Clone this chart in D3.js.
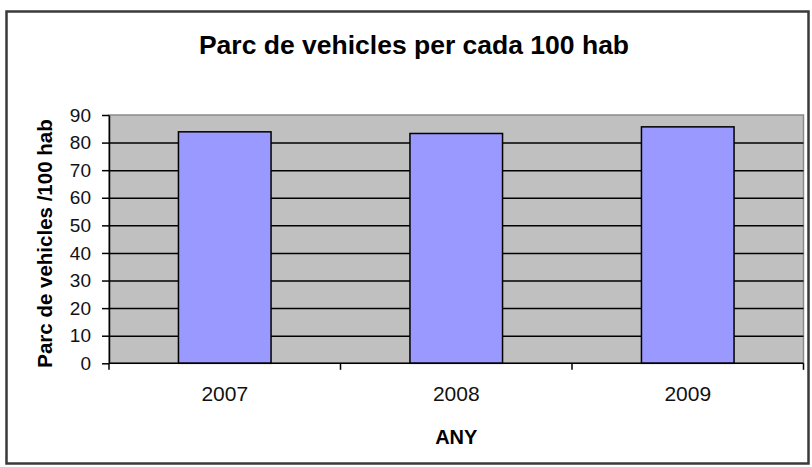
<!DOCTYPE html>
<html>
<head>
<meta charset="utf-8">
<script src="https://cdn.jsdelivr.net/npm/d3@7"></script>
<style>
  html, body { margin: 0; padding: 0; background: #fff; }
  svg { display: block; }
  text { font-family: "Liberation Sans", Arial, sans-serif; }
</style>
</head>
<body>
<svg id="chart" width="812" height="467"></svg>
<script>
const categories = ["2007", "2008", "2009"];
const values = [83.9, 83.3, 85.7];
const yTicks = [0, 10, 20, 30, 40, 50, 60, 70, 80, 90];
const chartTitle = "Parc de vehicles per cada 100 hab";
const yTitle = "Parc de vehicles /100 hab";
const xTitle = "ANY";

const svg = d3.select("#chart");
const plot = { left: 109, right: 803.5, top: 115, bottom: 363.3 };

// outer frame
svg.append("rect")
  .attr("x", 6.5).attr("y", 11.5)
  .attr("width", 802).attr("height", 452)
  .attr("fill", "#fff").attr("stroke", "#3a3a3a").attr("stroke-width", 2.5);

const x = d3.scaleBand().domain(categories)
  .range([plot.left, plot.right]).paddingInner(0.6).paddingOuter(0.3);
const y = d3.scaleLinear().domain([0, 90]).range([plot.bottom, plot.top]);

// plot background
svg.append("rect")
  .attr("x", plot.left).attr("y", plot.top)
  .attr("width", plot.right - plot.left).attr("height", plot.bottom - plot.top)
  .attr("fill", "#c0c0c0").attr("stroke", "#8a8a8a").attr("stroke-width", 1.5);

// gridlines
const grid = svg.append("g").attr("transform", `translate(${plot.left},0)`)
  .call(d3.axisLeft(y).tickValues(yTicks.filter(v => v > 0 && v < 90))
    .tickSize(-(plot.right - plot.left)).tickFormat(""));
grid.select(".domain").remove();
grid.selectAll("line").attr("stroke", "#000").attr("stroke-width", 1.5);

// bars
svg.append("g").selectAll("rect").data(values).join("rect")
  .attr("x", (d, i) => x(categories[i]))
  .attr("y", d => y(d))
  .attr("width", x.bandwidth())
  .attr("height", d => y(0) - y(d))
  .attr("fill", "#9999ff").attr("stroke", "#000").attr("stroke-width", 1.5);

// y axis
const yAxis = svg.append("g").attr("transform", `translate(${plot.left},0)`)
  .call(d3.axisLeft(y).tickValues(yTicks).tickSize(7).tickPadding(11).tickSizeOuter(0));
yAxis.select(".domain").attr("stroke", "#000").attr("stroke-width", 1.5);
yAxis.selectAll(".tick line").attr("stroke", "#000").attr("stroke-width", 1.5);
yAxis.selectAll("text").attr("font-size", 19).attr("fill", "#111");

// x axis
const xAxis = svg.append("g").attr("transform", `translate(0,${plot.bottom})`)
  .call(d3.axisBottom(x).tickSize(0).tickPadding(23));
xAxis.select(".domain").remove();
xAxis.selectAll("text").attr("font-size", 21).attr("fill", "#111");
svg.append("line")
  .attr("x1", plot.left).attr("x2", plot.right)
  .attr("y1", plot.bottom).attr("y2", plot.bottom)
  .attr("stroke", "#000").attr("stroke-width", 1.5);
const gap = (x.step() - x.bandwidth()) / 2;
const bounds = categories.map(c => x(c) - gap).concat([x(categories[categories.length - 1]) + x.bandwidth() + gap]);
svg.append("g").selectAll("line").data(bounds).join("line")
  .attr("x1", d => d).attr("x2", d => d)
  .attr("y1", plot.bottom).attr("y2", plot.bottom + 6.5)
  .attr("stroke", "#000").attr("stroke-width", 1.5);

// titles
svg.append("text").attr("x", 414).attr("y", 54)
  .attr("text-anchor", "middle").attr("font-size", 26.5).attr("font-weight", "bold")
  .text(chartTitle);
svg.append("text").attr("transform", "translate(52,243.5) rotate(-90)")
  .attr("text-anchor", "middle").attr("font-size", 20.5).attr("font-weight", "bold")
  .text(yTitle);
svg.append("text").attr("x", (plot.left + plot.right) / 2).attr("y", 444)
  .attr("text-anchor", "middle").attr("font-size", 20).attr("font-weight", "bold")
  .text(xTitle);
</script>
</body>
</html>
